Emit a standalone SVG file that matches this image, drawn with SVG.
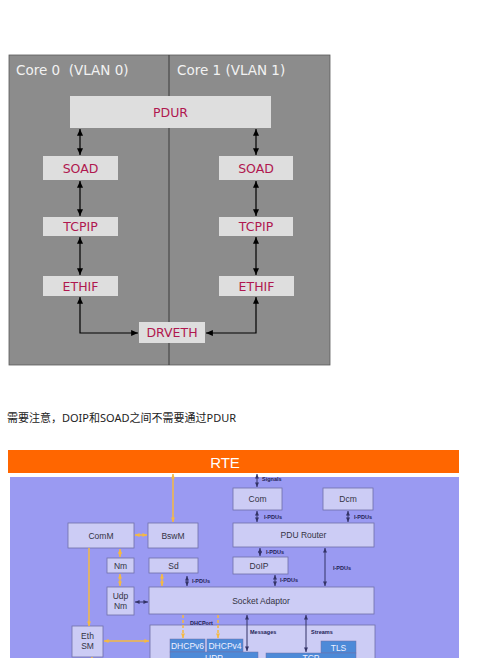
<svg xmlns="http://www.w3.org/2000/svg" width="500" height="658" viewBox="0 0 500 658">
<defs>
<marker id="ab" viewBox="0 0 8 7" refX="8" refY="3.5" markerWidth="7" markerHeight="6" markerUnits="userSpaceOnUse" orient="auto-start-reverse"><path d="M0,0 L8,3.5 L0,7 z" fill="#000"/></marker>
<marker id="ad" viewBox="0 0 8 7" refX="8" refY="3.5" markerWidth="5" markerHeight="4" markerUnits="userSpaceOnUse" orient="auto-start-reverse"><path d="M0,0 L8,3.5 L0,7 z" fill="#333366"/></marker>
<marker id="ay" viewBox="0 0 8 7" refX="8" refY="3.5" markerWidth="5" markerHeight="4" markerUnits="userSpaceOnUse" orient="auto-start-reverse"><path d="M0,0 L8,3.5 L0,7 z" fill="#f5b942"/></marker>
</defs>
<style>
.core{font-family:"DejaVu Sans",Verdana,sans-serif;font-size:13.5px;fill:#f2f2f2}
.tb{fill:#dedede}
.tt{font-family:"DejaVu Sans",Verdana,sans-serif;font-size:12.5px;fill:#b0174f;text-anchor:middle}
.bk{stroke:#000;stroke-width:1.2;fill:none;marker-start:url(#ab);marker-end:url(#ab)}
.bx{fill:#ccccf5;stroke:#6f6fa8;stroke-width:0.8}
.bl{fill:#4d8ad8;stroke:#6f6fa8;stroke-width:0.5}
.lt{font-family:"Liberation Sans",Arial,sans-serif;font-size:8.5px;fill:#333344;text-anchor:middle}
.wt{font-family:"Liberation Sans",Arial,sans-serif;font-size:8.5px;fill:#f0f0ff;text-anchor:middle}
.sm{font-family:"Liberation Sans",Arial,sans-serif;font-size:5.5px;font-weight:bold;fill:#222255}
.yl{stroke:#f5b942;stroke-width:1.5;fill:none;marker-start:url(#ay);marker-end:url(#ay)}
.dk{stroke:#333366;stroke-width:1;fill:none;marker-start:url(#ad);marker-end:url(#ad)}
</style>
<rect width="500" height="658" fill="#fff"/>

<!-- Top diagram -->
<g id="cores">
<rect x="9" y="55" width="321" height="310" fill="#8c8c8c" stroke="#5a5a5a" stroke-width="0.8"/>
<line x1="169" y1="55" x2="169" y2="365" stroke="#3a3a3a" stroke-width="1"/>
<text class="core" x="16" y="75">Core 0&#160; (VLAN 0)</text>
<text class="core" x="177" y="75">Core 1 (VLAN 1)</text>
</g>
<g id="pdur"><rect class="tb" x="70" y="96" width="201" height="32"/><text class="tt" x="170.5" y="117">PDUR</text></g>
<g id="soad0"><rect class="tb" x="43" y="156" width="75" height="24"/><text class="tt" x="80.5" y="173">SOAD</text></g>
<g id="soad1"><rect class="tb" x="219" y="156" width="74" height="24"/><text class="tt" x="256" y="173">SOAD</text></g>
<g id="tcpip0"><rect class="tb" x="43" y="217" width="75" height="19"/><text class="tt" x="80.5" y="231">TCPIP</text></g>
<g id="tcpip1"><rect class="tb" x="219" y="217" width="74" height="19"/><text class="tt" x="256" y="231">TCPIP</text></g>
<g id="ethif0"><rect class="tb" x="43" y="276" width="75" height="20"/><text class="tt" x="80.5" y="290.5">ETHIF</text></g>
<g id="ethif1"><rect class="tb" x="219" y="276" width="75" height="20"/><text class="tt" x="256.5" y="290.5">ETHIF</text></g>
<g id="drveth"><rect class="tb" x="139" y="322" width="66" height="21"/><text class="tt" x="172" y="337">DRVETH</text></g>
<g id="top-connectors">
<line class="bk" x1="80" y1="129" x2="80" y2="155"/>
<line class="bk" x1="256" y1="129" x2="256" y2="155"/>
<line class="bk" x1="80" y1="181" x2="80" y2="216"/>
<line class="bk" x1="256" y1="181" x2="256" y2="216"/>
<line class="bk" x1="80" y1="237" x2="80" y2="275"/>
<line class="bk" x1="256" y1="237" x2="256" y2="275"/>
<path class="bk" d="M80,297 V333 H138"/>
<path class="bk" d="M256,297 V333 H206"/>
</g>

<text x="7" y="422" font-family="'Noto Sans','Noto Sans CJK SC',sans-serif" font-size="11" fill="#222">需要注意，DOIP和SOAD之间不需要通过PDUR</text>

<!-- Bottom diagram -->
<g id="rte">
<rect x="8" y="450" width="451" height="23" fill="#ff6600"/>
<text x="225" y="467.5" font-family="'Liberation Sans',Arial,sans-serif" font-size="15" fill="#fff" text-anchor="middle">RTE</text>
</g>
<rect x="10" y="477" width="449" height="190" fill="#9a9af2"/>
<g id="comm"><rect class="bx" x="68" y="523" width="66" height="25"/><text class="lt" x="101" y="538.5">ComM</text></g>
<g id="bswm"><rect class="bx" x="148" y="523" width="50" height="25"/><text class="lt" x="173" y="538.5">BswM</text></g>
<g id="nm"><rect class="bx" x="107" y="558" width="27" height="15"/><text class="lt" x="120.5" y="568.5">Nm</text></g>
<g id="sd"><rect class="bx" x="149" y="558" width="49" height="15"/><text class="lt" x="173.5" y="568.5">Sd</text></g>
<g id="udpnm"><rect class="bx" x="107" y="587" width="27" height="28"/><text class="lt" x="120.5" y="599">Udp</text><text class="lt" x="120.5" y="609">Nm</text></g>
<g id="soad"><rect class="bx" x="149" y="587" width="225" height="27"/><text class="lt" x="261" y="603.5">Socket Adaptor</text></g>
<g id="ethsm"><rect class="bx" x="72" y="626" width="31" height="31"/><text class="lt" x="87.5" y="639">Eth</text><text class="lt" x="87.5" y="649">SM</text></g>
<g id="com"><rect class="bx" x="233" y="488" width="49" height="22"/><text class="lt" x="257.5" y="502">Com</text></g>
<g id="dcm"><rect class="bx" x="323" y="488" width="50" height="22"/><text class="lt" x="348" y="502">Dcm</text></g>
<g id="pdurouter"><rect class="bx" x="233" y="523" width="141" height="24"/><text class="lt" x="303.5" y="538">PDU Router</text></g>
<g id="doip"><rect class="bx" x="233" y="557" width="55" height="17"/><text class="lt" x="259" y="568.5">DoIP</text></g>
<g id="tcpipbox"><rect class="bx" x="150" y="625" width="225" height="45"/>
<text class="sm" x="250" y="634">Messages</text><text class="sm" x="311" y="634">Streams</text></g>
<g id="dhcpv6"><rect class="bl" x="170" y="639" width="35" height="13"/><text class="wt" x="187.5" y="649">DHCPv6</text></g>
<g id="dhcpv4"><rect class="bl" x="207" y="639" width="36" height="13"/><text class="wt" x="225" y="649">DHCPv4</text></g>
<g id="udp"><rect class="bl" x="170" y="652" width="88" height="15"/><text class="wt" x="214" y="661" font-size="8">UDP</text></g>
<g id="tls"><rect class="bl" x="321" y="641" width="35" height="12"/><text class="wt" x="338.5" y="650.5">TLS</text></g>
<g id="tcp"><rect class="bl" x="266" y="653" width="90" height="14"/><text class="wt" x="311" y="661" font-size="8">TCP</text></g>

<g id="bottom-connectors">
<line class="yl" x1="173" y1="474" x2="173" y2="522"/>
<line class="yl" x1="135" y1="535" x2="147" y2="535"/>
<line class="yl" x1="120" y1="549" x2="120" y2="557"/>
<line class="yl" x1="120" y1="574" x2="120" y2="586"/>
<line x1="89" y1="548" x2="89" y2="626" stroke="#f5b942" stroke-width="1.5" marker-end="url(#ay)"/>
<line class="yl" x1="162" y1="574" x2="162" y2="586"/>
<line class="dk" x1="135" y1="602" x2="148" y2="602"/>
<line class="yl" x1="104" y1="641" x2="149" y2="641"/>
<line x1="92" y1="657" x2="92" y2="660" stroke="#f5b942" stroke-width="1.5"/>
<line x1="183" y1="615" x2="183" y2="638" stroke="#f5b942" stroke-width="1.5" stroke-dasharray="3,2" marker-end="url(#ay)"/>
<line x1="218" y1="615" x2="218" y2="638" stroke="#f5b942" stroke-width="1.5" stroke-dasharray="3,2" marker-end="url(#ay)"/>
<text class="sm" x="190" y="625">DHCPort</text>
<line class="dk" x1="187" y1="576" x2="187" y2="586"/>
<text class="sm" x="192" y="583">I-PDUs</text>
<line class="dk" x1="257" y1="474" x2="257" y2="487"/>
<text class="sm" x="262" y="481">Signals</text>
<line class="dk" x1="257" y1="511" x2="257" y2="522"/>
<text class="sm" x="264" y="519">I-PDUs</text>
<line class="dk" x1="348" y1="511" x2="348" y2="522"/>
<text class="sm" x="354" y="519">I-PDUs</text>
<line class="dk" x1="260" y1="548" x2="260" y2="556"/>
<text class="sm" x="266" y="554">I-PDUs</text>
<line class="dk" x1="275" y1="575" x2="275" y2="586"/>
<text class="sm" x="280" y="582">I-PDUs</text>
<line class="dk" x1="325" y1="548" x2="325" y2="586"/>
<text class="sm" x="333" y="570">I-PDUs</text>
<line class="dk" x1="247" y1="615" x2="247" y2="651"/>
<line class="dk" x1="306" y1="615" x2="306" y2="652"/>
</g>
</svg>
